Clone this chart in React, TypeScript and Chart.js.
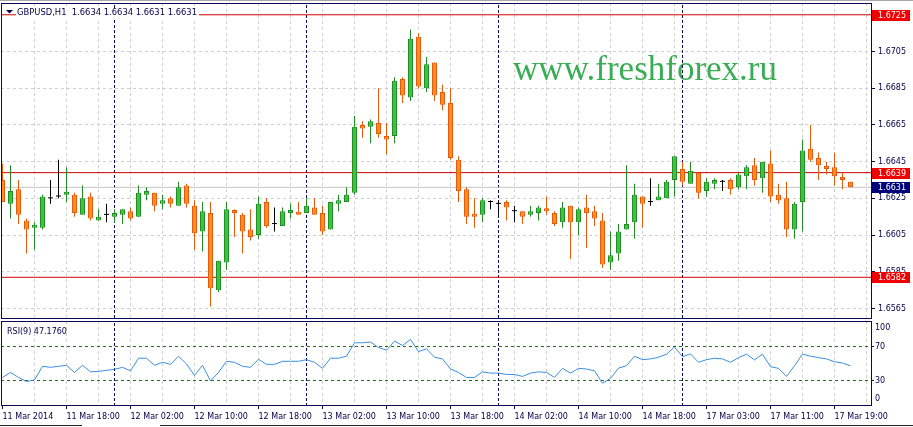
import React, { useEffect, useRef } from 'react';
import { Chart, registerables } from 'chart.js';

Chart.register(...registerables);

// ---------------- data ----------------
const SYMBOL = 'GBPUSD';
const TIMEFRAME = 'H1';
const WATERMARK = 'www.freshforex.ru';

const opens = [
  1.6635, 1.6622, 1.6630, 1.6613, 1.6609, 1.6609, 1.6625, 1.6626, 1.6627, 1.6627,
  1.6616, 1.6626, 1.6613, 1.6616, 1.6615, 1.6616, 1.6618, 1.6615, 1.6627, 1.6628,
  1.6622, 1.6625, 1.6621, 1.6632, 1.6621, 1.6607, 1.6617, 1.6575, 1.6590, 1.6618,
  1.6616, 1.6608, 1.6605, 1.6623, 1.6611, 1.6610, 1.6617, 1.6617, 1.6617, 1.6620,
  1.6617, 1.6608, 1.6622, 1.6623, 1.6628, 1.6665, 1.6664, 1.6666, 1.6659, 1.6659,
  1.6690, 1.6680, 1.6713, 1.6685, 1.6699, 1.6683, 1.6677, 1.6646, 1.6630, 1.6616,
  1.6616, 1.6623, 1.6622, 1.6623, 1.6618, 1.6618, 1.6616, 1.6617, 1.6619, 1.6617,
  1.6612, 1.6621, 1.6612, 1.6620, 1.6618, 1.6613, 1.6590, 1.6595, 1.6608, 1.6612,
  1.6626, 1.6623, 1.6624, 1.6625, 1.6635, 1.6641, 1.6633, 1.6639, 1.6629, 1.6633,
  1.6634, 1.6635, 1.6631, 1.6637, 1.6643, 1.6636, 1.6644, 1.6627, 1.6625, 1.6608,
  1.6623, 1.6652, 1.6647, 1.6642, 1.6642, 1.6636, 1.6634,
];
const highs = [
  1.6644, 1.6643, 1.6635, 1.6614, 1.6612, 1.6627, 1.6635, 1.6646, 1.6642, 1.6628,
  1.6632, 1.6628, 1.6619, 1.6622, 1.6619, 1.6619, 1.6620, 1.6632, 1.6631, 1.6628,
  1.6627, 1.6626, 1.6634, 1.6633, 1.6624, 1.6623, 1.6623, 1.6591, 1.6623, 1.6619,
  1.6617, 1.6619, 1.6626, 1.6625, 1.6620, 1.6620, 1.6622, 1.6623, 1.6625, 1.6625,
  1.6621, 1.6623, 1.6627, 1.6631, 1.6670, 1.6667, 1.6668, 1.6685, 1.6666, 1.6691,
  1.6691, 1.6717, 1.6715, 1.6702, 1.6699, 1.6687, 1.6685, 1.6648, 1.6631, 1.6625,
  1.6625, 1.6624, 1.6624, 1.6624, 1.6621, 1.6618, 1.6621, 1.6621, 1.6626, 1.6618,
  1.6623, 1.6621, 1.6620, 1.6627, 1.6621, 1.6617, 1.6607, 1.6611, 1.6643, 1.6633,
  1.6626, 1.6636, 1.6633, 1.6635, 1.6648, 1.6645, 1.6645, 1.6639, 1.6636, 1.6636,
  1.6635, 1.6636, 1.6639, 1.6643, 1.6647, 1.6645, 1.6651, 1.6633, 1.6634, 1.6623,
  1.6657, 1.6665, 1.6650, 1.6645, 1.6650, 1.6639, 1.6634,
];
const lows = [
  1.6623, 1.6614, 1.6611, 1.6595, 1.6597, 1.6608, 1.6622, 1.6625, 1.6623, 1.6615,
  1.6616, 1.6613, 1.6613, 1.6612, 1.6612, 1.6611, 1.6613, 1.6615, 1.6624, 1.6618,
  1.6619, 1.6620, 1.6621, 1.6620, 1.6597, 1.6596, 1.6566, 1.6574, 1.6586, 1.6604,
  1.6595, 1.6602, 1.6603, 1.6609, 1.6607, 1.6610, 1.6614, 1.6616, 1.6617, 1.6616,
  1.6605, 1.6608, 1.6618, 1.6623, 1.6627, 1.6658, 1.6655, 1.6658, 1.6649, 1.6655,
  1.6677, 1.6678, 1.6685, 1.6683, 1.6678, 1.6673, 1.6646, 1.6623, 1.6611, 1.6609,
  1.6612, 1.6619, 1.6616, 1.6613, 1.6612, 1.6611, 1.6615, 1.6613, 1.6616, 1.6610,
  1.6609, 1.6592, 1.6605, 1.6598, 1.6610, 1.6587, 1.6586, 1.6591, 1.6608, 1.6603,
  1.6609, 1.6621, 1.6624, 1.6625, 1.6626, 1.6632, 1.6633, 1.6625, 1.6626, 1.6630,
  1.6629, 1.6627, 1.6630, 1.6630, 1.6632, 1.6628, 1.6623, 1.6622, 1.6604, 1.6603,
  1.6607, 1.6645, 1.6635, 1.6638, 1.6632, 1.6630, 1.6631,
];
const closes = [
  1.6623, 1.6629, 1.6616, 1.6608, 1.6610, 1.6626, 1.6625, 1.6626, 1.6628, 1.6617,
  1.6625, 1.6614, 1.6615, 1.6616, 1.6617, 1.6619, 1.6614, 1.6628, 1.6629, 1.6621,
  1.6624, 1.6622, 1.6631, 1.6622, 1.6606, 1.6618, 1.6576, 1.6591, 1.6619, 1.6617,
  1.6607, 1.6604, 1.6622, 1.6610, 1.6611, 1.6618, 1.6618, 1.6616, 1.6621, 1.6616,
  1.6607, 1.6623, 1.6624, 1.6627, 1.6664, 1.6663, 1.6667, 1.6660, 1.6657, 1.6689,
  1.6681, 1.6712, 1.6686, 1.6698, 1.6681, 1.6676, 1.6647, 1.6629, 1.6615, 1.6615,
  1.6624, 1.6623, 1.6622, 1.6620, 1.6618, 1.6615, 1.6618, 1.6620, 1.6618, 1.6611,
  1.6620, 1.6612, 1.6619, 1.6617, 1.6614, 1.6589, 1.6594, 1.6607, 1.6611, 1.6627,
  1.6622, 1.6623, 1.6626, 1.6634, 1.6648, 1.6634, 1.6640, 1.6628, 1.6634, 1.6635,
  1.6634, 1.6630, 1.6638, 1.6642, 1.6635, 1.6645, 1.6626, 1.6624, 1.6608, 1.6622,
  1.6651, 1.6646, 1.6643, 1.6641, 1.6637, 1.6635, 1.6631,
];
const rsiValues = [
  33.6, 39.5, 33.6, 28.8, 30.7, 46.7, 45.5, 46.7, 47.9, 39.5,
  47.9, 40.2, 40.7, 41.9, 43.1, 45.5, 41.4, 56.2, 56.2, 47.9,
  51.4, 49.0, 58.6, 49.4, 36.0, 47.9, 29.5, 39.5, 52.6, 51.4,
  46.7, 45.5, 55.0, 49.0, 49.0, 52.6, 52.6, 52.6, 54.5, 51.4,
  44.3, 56.2, 56.2, 58.6, 74.4, 74.4, 75.2, 68.8, 65.7, 76.4,
  71.2, 78.3, 64.0, 67.3, 57.4, 55.4, 43.5, 39.5, 33.6, 33.6,
  40.2, 38.7, 38.7, 37.1, 37.1, 34.8, 38.7, 40.2, 39.5, 33.6,
  44.3, 38.7, 44.3, 43.5, 41.4, 26.8, 32.4, 44.6, 47.4, 58.6,
  54.5, 55.4, 57.4, 61.0, 69.3, 58.1, 61.3, 51.4, 54.5, 56.2,
  55.4, 51.4, 56.9, 61.0, 54.2, 61.0, 46.2, 44.3, 34.8, 47.4,
  61.0, 58.6, 56.9, 55.4, 52.1, 50.6, 47.176,
];
const timeLabels = [
  '11 Mar 2014', '11 Mar 18:00', '12 Mar 02:00', '12 Mar 10:00', '12 Mar 18:00',
  '13 Mar 02:00', '13 Mar 10:00', '13 Mar 18:00', '14 Mar 02:00', '14 Mar 10:00',
  '14 Mar 18:00', '17 Mar 03:00', '17 Mar 11:00', '17 Mar 19:00',
];
const LABEL_EVERY = 8;
const GRID_EVERY = 4;
const separatorIdx = [14, 38, 62, 85];
const priceTicks = [1.6565, 1.6585, 1.6605, 1.6625, 1.6645, 1.6665, 1.6685, 1.6705];
const levelLines = [1.6725, 1.6639, 1.6582];
const bidPrice = 1.6631;
const rsiPeriod = 9;
const rsiLevels = [70, 30];
const rsiEdgeLabels = [100, 0];

// ---------------- styles / layout ----------------
const XMIN = -0.1875;
const XMAX = 108.5625;
const YMIN = 1.655982;
const YMAX = 1.673142;
const FONT_FAMILY = '"DejaVu Sans", sans-serif';
const FONT_SIZE = 8;
const FONT = `${FONT_SIZE}px ${FONT_FAMILY}`;
const TITLE_FONT = `8.4px ${FONT_FAMILY}`;
const NAVY = '#00004a';
const FRAME = '#0a0a58';
const GRID = '#cfcfcf';
const BULL_FILL = '#3dc43d';
const BULL_LINE = '#1f8f25';
const BEAR_FILL = '#ff8c1e';
const BEAR_LINE = '#e65a0c';
const DOJI = '#000000';
const RED_LINE = '#d00000';
const RED_BOX = '#f00000';
const BID_LINE = '#c4c4c4';
const BID_BOX = '#00007a';
const RSI_LINE = '#3a8fe0';
const LEVEL_GREEN = '#1d6e1d';

const n = closes.length;
const kinds = closes.map((c, i) => (c > opens[i] ? 'bull' : c < opens[i] ? 'bear' : 'doji'));
const gridTicks: number[] = [];
for (let v = GRID_EVERY; v <= XMAX; v += GRID_EVERY) gridTicks.push(v);

const zeroPad = (s: any) => {
  s.paddingTop = 0;
  s.paddingBottom = 0;
  s.paddingLeft = 0;
  s.paddingRight = 0;
};

function hLine(v: number, color: string, order: number, dash: number[] = []) {
  return {
    type: 'line',
    data: [{ x: XMIN, y: v }, { x: XMAX, y: v }],
    borderColor: color,
    borderWidth: 1,
    borderDash: dash,
    pointRadius: 0,
    fill: false,
    order,
  };
}
function vLine(x: number, y0: number, y1: number, order: number) {
  return {
    type: 'line',
    data: [{ x, y: y0 }, { x, y: y1 }],
    borderColor: FRAME,
    borderWidth: 1,
    borderDash: [3, 2],
    pointRadius: 0,
    fill: false,
    order,
  };
}

function mainConfig(): any {
  const bodyIdx = [...Array(n).keys()].filter((i) => kinds[i] !== 'doji');
  const dojiIdx = [...Array(n).keys()].filter((i) => kinds[i] === 'doji');
  const wickIdx = [...Array(n).keys()].filter((i) => highs[i] > lows[i]);
  const lineColor = (i: number) => (kinds[i] === 'bull' ? BULL_LINE : kinds[i] === 'bear' ? BEAR_LINE : DOJI);

  const datasets: any[] = [
    {
      type: 'bar',
      data: bodyIdx.map((i) => ({ x: i, y: [opens[i], closes[i]] })),
      backgroundColor: bodyIdx.map((i) => (kinds[i] === 'bull' ? BULL_FILL : BEAR_FILL)),
      borderColor: bodyIdx.map(lineColor),
      borderWidth: 1,
      borderSkipped: false,
      barThickness: 5,
      minBarLength: 3,
      grouped: false,
      inflateAmount: 0,
      order: 0,
    },
    {
      type: 'bar',
      data: dojiIdx.map((i) => ({ x: i, y: [opens[i], closes[i]] })),
      backgroundColor: DOJI,
      borderWidth: 0,
      barThickness: 5,
      minBarLength: 1,
      grouped: false,
      inflateAmount: 0,
      order: 0,
    },
    {
      type: 'bar',
      data: wickIdx.map((i) => ({ x: i, y: [lows[i], highs[i]] })),
      backgroundColor: wickIdx.map(lineColor),
      borderWidth: 0,
      barThickness: 1,
      grouped: false,
      inflateAmount: 0,
      order: 1,
    },
    ...levelLines.map((v) => hLine(v, RED_LINE, 3)),
    hLine(bidPrice, BID_LINE, 4),
    ...separatorIdx.map((s) => vLine(s, YMIN, YMAX, 5)),
  ];

  const plugin = {
    id: 'mainDecor',
    beforeDatasetsDraw(chart: any) {
      const { ctx } = chart;
      ctx.save();
      ctx.font = '35px "Liberation Serif", serif';
      ctx.fillStyle = '#39ad54';
      ctx.textAlign = 'left';
      ctx.textBaseline = 'alphabetic';
      ctx.fillText(WATERMARK, 513, 80);
      ctx.restore();
    },
    afterDraw(chart: any) {
      const { ctx, chartArea: a } = chart;
      const ys = chart.scales.y;
      ctx.save();
      ctx.fillStyle = '#a8a8a8';
      ctx.fillRect(0, 0, 913, 1);
      ctx.strokeStyle = FRAME;
      ctx.lineWidth = 1;
      ctx.setLineDash([]);
      ctx.strokeRect(a.left + 0.5, a.top + 0.5, a.right - a.left, a.bottom - a.top);

      // title
      const last = n - 1;
      const title = `${SYMBOL},${TIMEFRAME}  ${opens[last].toFixed(4)} ${highs[last].toFixed(4)} ${lows[last].toFixed(4)} ${closes[last].toFixed(4)}`;
      ctx.font = TITLE_FONT;
      const tw = ctx.measureText(title).width;
      ctx.fillStyle = '#ffffff';
      ctx.fillRect(16, 8, tw + 3, 11);
      ctx.fillStyle = NAVY;
      ctx.beginPath();
      ctx.moveTo(6, 10);
      ctx.lineTo(13, 10);
      ctx.lineTo(9.5, 13.5);
      ctx.closePath();
      ctx.fill();
      ctx.textAlign = 'left';
      ctx.textBaseline = 'middle';
      ctx.fillText(title, 17, 12.5);

      // price boxes
      ctx.font = FONT;
      const box = (v: number, color: string) => {
        const py = Math.round(ys.getPixelForValue(v));
        ctx.fillStyle = color;
        ctx.fillRect(872, py - 5, 38, 11);
        ctx.fillStyle = '#ffffff';
        ctx.fillText(v.toFixed(4), 878, py + 0.5);
      };
      levelLines.forEach((v) => box(v, RED_BOX));
      box(bidPrice, BID_BOX);
      ctx.restore();
    },
  };

  return {
    type: 'bar',
    data: { datasets },
    plugins: [plugin],
    options: {
      animation: false,
      responsive: false,
      devicePixelRatio: 1,
      events: [],
      layout: { padding: { left: 1, top: 3, right: 0, bottom: 2 } },
      plugins: { legend: { display: false }, tooltip: { enabled: false }, title: { display: false } },
      scales: {
        x: {
          type: 'linear',
          min: XMIN,
          max: XMAX,
          offset: false,
          afterBuildTicks: (s: any) => {
            s.ticks = gridTicks.map((v) => ({ value: v }));
          },
          afterFit: (s: any) => {
            s.height = 0;
            zeroPad(s);
          },
          ticks: { display: false },
          grid: { color: GRID, drawTicks: false, offset: false },
          border: { display: false, dash: [3, 3] },
        },
        y: {
          type: 'linear',
          position: 'right',
          min: YMIN,
          max: YMAX,
          beginAtZero: false,
          afterBuildTicks: (s: any) => {
            s.ticks = priceTicks.map((v) => ({ value: v }));
          },
          afterFit: (s: any) => {
            s.width = 42;
            zeroPad(s);
          },
          ticks: {
            callback: (v: number) => Number(v).toFixed(4),
            font: { family: FONT_FAMILY, size: FONT_SIZE },
            color: NAVY,
            padding: 3,
            autoSkip: false,
          },
          grid: { color: GRID, tickColor: FRAME, tickLength: 4, tickBorderDash: [] },
          border: { display: false, dash: [3, 3] },
        },
      },
    },
  };
}

function rsiConfig(): any {
  const datasets: any[] = [
    {
      type: 'line',
      data: rsiValues.map((v, i) => ({ x: i, y: v })),
      borderColor: RSI_LINE,
      borderWidth: 1,
      pointRadius: 0,
      tension: 0,
      fill: false,
      order: 0,
    },
    ...rsiLevels.map((v) => hLine(v, LEVEL_GREEN, 1, [3, 3])),
    ...separatorIdx.map((s) => vLine(s, 0, 100, 2)),
  ];

  const plugin = {
    id: 'rsiDecor',
    afterDraw(chart: any) {
      const { ctx, chartArea: a } = chart;
      const ys = chart.scales.y;
      ctx.save();
      ctx.strokeStyle = FRAME;
      ctx.lineWidth = 1;
      ctx.setLineDash([]);
      ctx.strokeRect(a.left + 0.5, a.top + 0.5, a.right - a.left, a.bottom - a.top - 1);
      ctx.font = FONT;
      ctx.fillStyle = NAVY;
      ctx.textAlign = 'left';
      ctx.textBaseline = 'middle';
      ctx.fillText(`RSI(${rsiPeriod}) ${rsiValues[n - 1].toFixed(4)}`, 7, 12.5);
      // extreme scale labels are drawn inside the panel edges, as the terminal does
      const top = ys.getPixelForValue(rsiEdgeLabels[0]) + 7;
      const bot = ys.getPixelForValue(rsiEdgeLabels[1]) - 7;
      ctx.fillText(String(rsiEdgeLabels[0]), 875, top);
      ctx.fillText(String(rsiEdgeLabels[1]), 875, bot);
      // window status line
      ctx.fillStyle = '#202020';
      ctx.fillRect(0, 106, 82, 1);
      ctx.fillRect(160, 106, 753, 1);
      ctx.restore();
    },
  };

  return {
    type: 'line',
    data: { datasets },
    plugins: [plugin],
    options: {
      animation: false,
      responsive: false,
      devicePixelRatio: 1,
      events: [],
      layout: { padding: { left: 1, top: 2, right: 0, bottom: 0 } },
      plugins: { legend: { display: false }, tooltip: { enabled: false }, title: { display: false } },
      scales: {
        x: {
          type: 'linear',
          min: XMIN,
          max: XMAX,
          offset: false,
          afterBuildTicks: (s: any) => {
            s.ticks = gridTicks.map((v) => ({ value: v })).concat([{ value: 0 }]).sort((p: any, q: any) => p.value - q.value);
          },
          afterFit: (s: any) => {
            s.height = 21;
            zeroPad(s);
          },
          ticks: {
            callback: (v: number) => {
              const k = v / LABEL_EVERY;
              return Number.isInteger(k) && k < timeLabels.length ? timeLabels[k] : '';
            },
            align: 'start',
            autoSkip: false,
            maxRotation: 0,
            minRotation: 0,
            font: { family: FONT_FAMILY, size: FONT_SIZE },
            color: NAVY,
            padding: 3,
          },
          grid: {
            color: (c: any) => (c.tick && c.tick.value === 0 ? 'rgba(0,0,0,0)' : GRID),
            tickColor: (c: any) => {
              const v = c.tick ? c.tick.value : -1;
              return v % LABEL_EVERY === 0 && v / LABEL_EVERY < timeLabels.length ? FRAME : 'rgba(0,0,0,0)';
            },
            tickLength: 3,
            tickBorderDash: [],
            offset: false,
          },
          border: { display: false, dash: [3, 3] },
        },
        y: {
          type: 'linear',
          position: 'right',
          min: 0,
          max: 100,
          afterBuildTicks: (s: any) => {
            s.ticks = rsiLevels.map((v) => ({ value: v }));
          },
          afterFit: (s: any) => {
            s.width = 42;
            zeroPad(s);
          },
          ticks: {
            callback: (v: number) => String(v),
            font: { family: FONT_FAMILY, size: FONT_SIZE },
            color: NAVY,
            padding: 1,
            autoSkip: false,
          },
          grid: { drawOnChartArea: false, tickColor: FRAME, tickLength: 3, tickBorderDash: [] },
          border: { display: false },
        },
      },
    },
  };
}

export default function App() {
  const mainRef = useRef<HTMLCanvasElement>(null);
  const rsiRef = useRef<HTMLCanvasElement>(null);

  useEffect(() => {
    const main = new Chart(mainRef.current as HTMLCanvasElement, mainConfig());
    const rsi = new Chart(rsiRef.current as HTMLCanvasElement, rsiConfig());
    return () => {
      main.destroy();
      rsi.destroy();
    };
  }, []);

  return (
    <div
      style={{
        position: 'fixed',
        left: 0,
        top: 0,
        width: 913,
        height: 427,
        background: '#ffffff',
        overflow: 'hidden',
      }}
    >
      <canvas
        ref={mainRef}
        width={913}
        height={320}
        style={{ position: 'absolute', left: 0, top: 0, width: 913, height: 320 }}
      />
      <canvas
        ref={rsiRef}
        width={913}
        height={108}
        style={{ position: 'absolute', left: 0, top: 319, width: 913, height: 108 }}
      />
    </div>
  );
}
